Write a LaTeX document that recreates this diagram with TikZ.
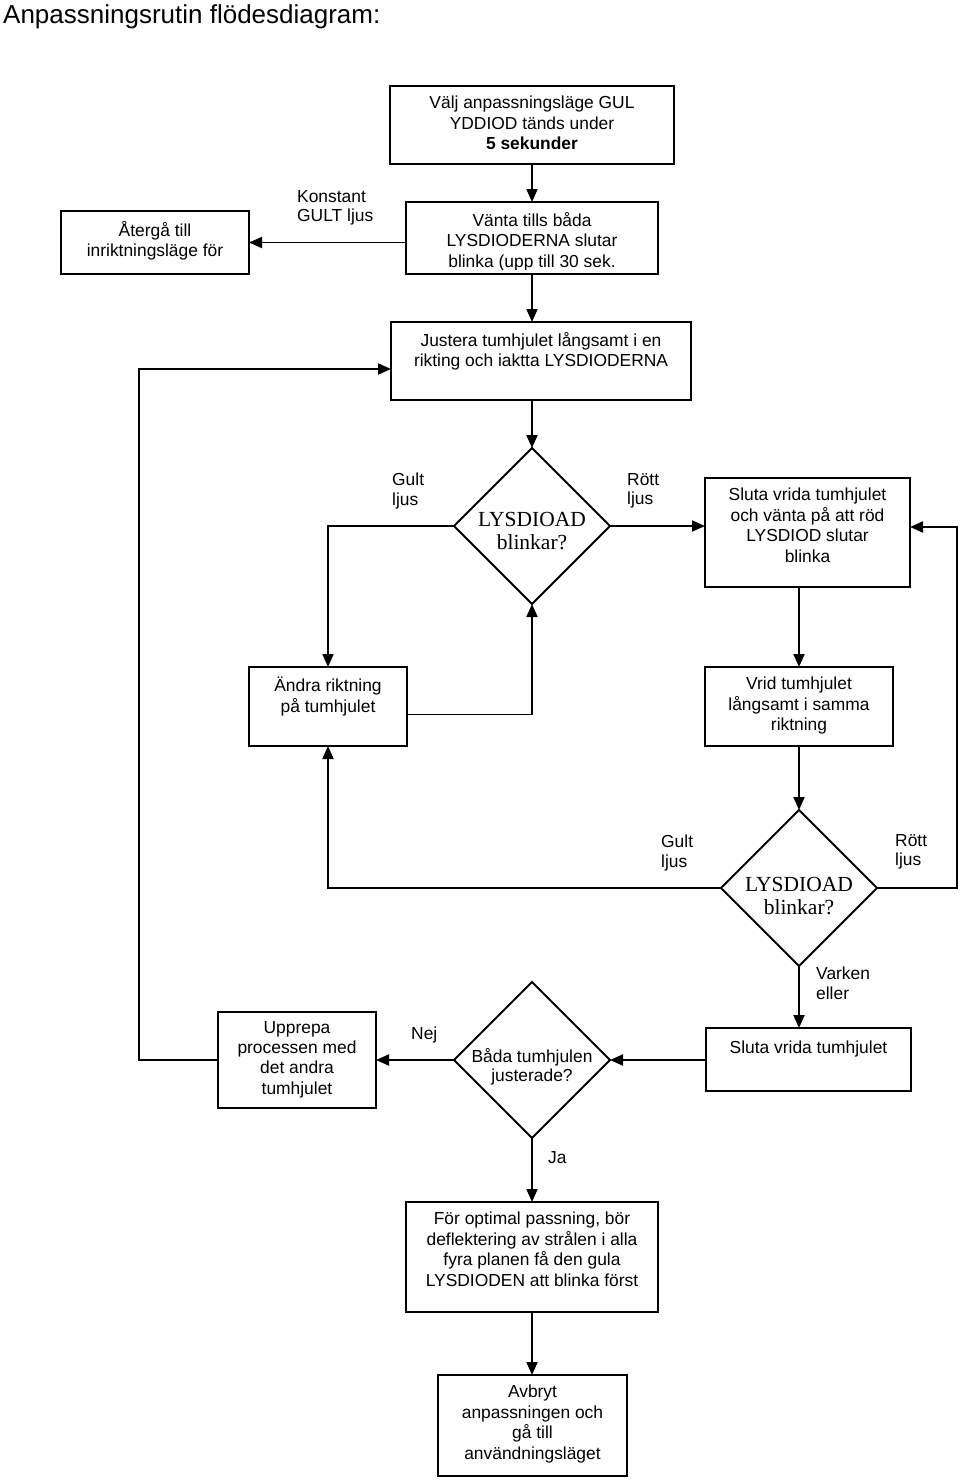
\documentclass[tikz,border=0pt]{standalone}
\usepackage{fontspec}
\setmainfont{Liberation Sans}
\newfontfamily\dserif{Liberation Serif}
\usetikzlibrary{arrows.meta,shapes.geometric}
\newcommand\tstrut{\rule{0pt}{16pt}}
\newcommand\bxf{\fontsize{17.4}{20.4}\selectfont}
\newcommand\lbf{\fontsize{17.4}{19.5}\selectfont}
\newcommand\dmf{\dserif\fontsize{21.5}{23}\selectfont}
\newcommand\dmsf{\fontsize{17.4}{19.2}\selectfont}
\begin{document}
\begin{tikzpicture}[x=1pt,y=-1pt,
  bx/.style={draw, line width=1.9pt, inner sep=0pt, outer sep=0pt, anchor=north west},
  dm/.style={draw, diamond, line width=1.9pt, inner sep=0pt, outer sep=0pt},
  txt/.style={anchor=north, inner sep=0pt, align=center, font=\bxf, execute at begin node=\tstrut},
  dtxt/.style={anchor=north, inner sep=0pt, align=center, font=\dmf, execute at begin node=\tstrut},
  lbl/.style={anchor=north west, inner sep=0pt, align=left, font=\lbf, execute at begin node=\tstrut},
  arr/.style={line width=1.9pt, -{Triangle[length=13pt,width=11pt]}}
]
\useasboundingbox (0,0) rectangle (960,1480);

% title
\node[anchor=base west, inner sep=0pt, font=\fontsize{26}{30}\selectfont] (title) at (3,24) {Anpassningsrutin flödesdiagram:};

% boxes
\node[bx, minimum width=284, minimum height=78] (b1) at (390,86) {};
\node[bx, minimum width=188, minimum height=63] (b2) at (61,211) {};
\node[bx, minimum width=252, minimum height=72] (b3) at (406,202) {};
\node[bx, minimum width=300, minimum height=78] (b4) at (391,322) {};
\node[bx, minimum width=205, minimum height=109] (b5) at (705,478) {};
\node[bx, minimum width=158, minimum height=79] (b6) at (249,667) {};
\node[bx, minimum width=188, minimum height=79] (b7) at (705,667) {};
\node[bx, minimum width=205, minimum height=63] (b8) at (706,1028) {};
\node[bx, minimum width=158, minimum height=96] (b9) at (218,1012) {};
\node[bx, minimum width=252, minimum height=110] (b10) at (406,1202) {};
\node[bx, minimum width=189, minimum height=101] (b11) at (438,1375) {};

% diamonds
\node[dm, minimum width=156, minimum height=156] (d1) at (532,526) {};
\node[dm, minimum width=156, minimum height=156] (d2) at (799,888) {};
\node[dm, minimum width=156, minimum height=156] (d3) at (532,1060) {};

% box texts
\node[txt] (t1) at ([yshift=-10pt]b1.north) {Välj anpassningsläge GUL\\YDDIOD tänds under\\\textbf{5 sekunder}};
\node[txt] (t2) at ([yshift=-10pt]b2.north) {Återgå till\\inriktningsläge för};
\begin{scope}
\clip ([xshift=1pt,yshift=-1pt]b3.north west) rectangle ([xshift=-1pt,yshift=5pt]b3.south east);
\node[txt] (t3) at ([yshift=-10pt]b3.north) {Vänta tills båda\\LYSDIODERNA slutar\\blinka (upp till 30 sek.};
\end{scope}
\node[txt] (t4) at ([yshift=-10pt]b4.north) {Justera tumhjulet långsamt i en\\rikting och iaktta LYSDIODERNA};
\node[txt] (t5) at ([yshift=-10pt]b5.north) {Sluta vrida tumhjulet\\och vänta på att röd\\LYSDIOD slutar\\blinka};
\node[txt] (t6) at ([yshift=-10pt]b6.north) {Ändra riktning\\på tumhjulet};
\node[txt] (t7) at ([yshift=-10pt]b7.north) {Vrid tumhjulet\\långsamt i samma\\riktning};
\node[txt] (t8) at ([yshift=-9pt]b8.north) {Sluta vrida tumhjulet};
\node[txt] (t9) at ([yshift=-9pt]b9.north) {Upprepa\\processen med\\det andra\\tumhjulet};
\node[txt] (t10) at ([yshift=-10pt]b10.north) {För optimal passning, bör\\deflektering av strålen i alla\\fyra planen få den gula\\LYSDIODEN att blinka först};
\node[txt] (t11) at ([yshift=-10pt]b11.north) {Avbryt\\anpassningen och\\gå till\\användningsläget};

% diamond texts
\node[dtxt] (td1) at ([yshift=14pt]d1.center) {LYSDIOAD\\blinkar?};
\node[dtxt] (td2) at ([yshift=11pt]d2.center) {LYSDIOAD\\blinkar?};
\node[txt, font=\dmsf] (td3) at ([yshift=12pt]d3.center) {Båda tumhjulen\\justerade?};

% labels
\node[lbl] (lk) at (297,190) {Konstant\\GULT ljus};
\node[lbl] (lg1) at (392,473) {Gult\\ljus};
\node[lbl] (lr1) at (627,473) {Rött\\ljus};
\node[lbl] (lg2) at (661,835) {Gult\\ljus};
\node[lbl] (lr2) at (895,834) {Rött\\ljus};
\node[lbl] (lv) at (816,967) {Varken\\eller};
\node[lbl] (ln) at (411,1023) {Nej};
\node[lbl] (lj) at (548,1147) {Ja};

% helper coordinates
\coordinate (r1) at (957,527);
\coordinate (l1) at (139,1060);
\coordinate (l2) at (139,369);

% connectors
\draw[arr] (b1.south) -- (b3.north);
\draw[arr] (b2.east -| b3.west) -- (b2.east);
\draw[arr] (b3.south) -- (b3.south |- b4.north);
\draw[arr] (d1.north |- b4.south) -- (d1.north);
\draw[arr] (d1.east) -- (d1.east -| b5.west);
\draw[arr] (d1.west) -| (b6.north);
\draw[arr] ([yshift=-8pt]b6.east) -| (d1.south);
\draw[arr] (b7.north |- b5.south) -- (b7.north);
\draw[arr] (b7.south) -- (d2.north);
\draw[arr] (d2.west) -| (b6.south);
\draw[arr] (d2.east) -| (r1) -- (r1 -| b5.east);
\draw[arr] (d2.south) -- (d2.south |- b8.north);
\draw[arr] (b8.west |- d3.east) -- (d3.east);
\draw[arr] (d3.west) -- (d3.west -| b9.east);
\draw[arr] (b9.west |- d3.west) -- (l1) -- (l2) -- (l2 -| b4.west);
\draw[arr] (d3.south) -- (b10.north);
\draw[arr] (b10.south) -- (b10.south |- b11.north);
\end{tikzpicture}
\end{document}
